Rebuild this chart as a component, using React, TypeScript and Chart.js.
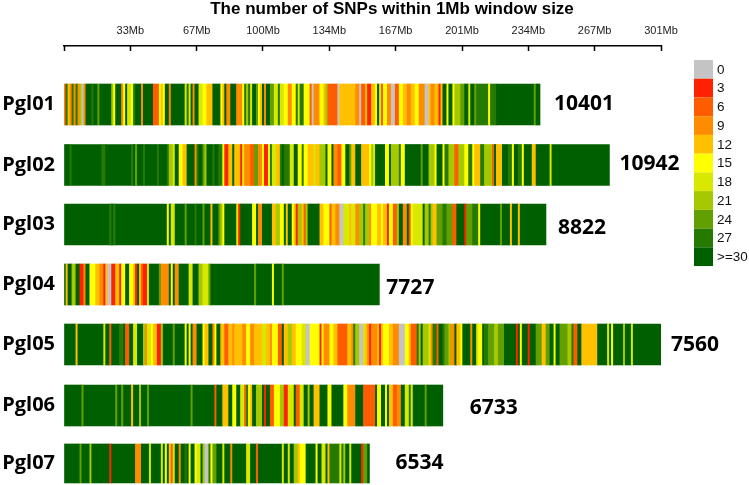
import React, { useEffect, useRef } from "react";
import { Chart, registerables } from "chart.js";

Chart.register(...registerables);

const chromosomes = ["Pgl01", "Pgl02", "Pgl03", "Pgl04", "Pgl05", "Pgl06", "Pgl07"];
const chromosomeLengthsMb = [240, 275, 243, 159, 301, 191, 154];
const snpTotals = ["10401", "10942", "8822", "7727", "7560", "6733", "6534"];
const legendLevels = [0, 3, 6, 9, 12, 15, 18, 21, 24, 27, 30];
const legendLabels = ["0", "3", "6", "9", "12", "15", "18", "21", "24", "27", ">=30"];
const tickValuesMb = [0, 33.44, 66.89, 100.33, 133.78, 167.22, 200.67, 234.11, 267.56, 301];
const tickLabels = ["", "33Mb", "67Mb", "100Mb", "134Mb", "167Mb", "201Mb", "234Mb", "267Mb", "301Mb"];

// Each run is [start in Mb, SNP level]; a run lasts until the next start.
const pgl01: number[][] = [[0,6],[1,27],[2,12],[3,9],[4,27],[5,9],[6,27],[7,9],[8,21],[9,0],[10,9],[11,30],[14,27],[15,30],[17,24],[18,30],[24,21],[25,15],[26,30],[29,9],[30,15],[31,30],[32,18],[34,15],[35,27],[36,30],[39,9],[40,30],[45,6],[48,15],[49,12],[50,15],[51,30],[53,9],[54,30],[61,18],[62,27],[63,18],[64,30],[65,9],[66,30],[68,18],[70,15],[72,12],[75,30],[79,15],[80,12],[81,30],[82,9],[84,30],[87,9],[90,15],[91,27],[92,21],[93,27],[94,18],[95,30],[97,24],[98,15],[99,12],[100,30],[101,9],[102,30],[104,24],[106,18],[108,27],[109,18],[111,15],[113,9],[115,15],[117,27],[118,18],[119,27],[121,15],[124,6],[125,0],[126,9],[129,15],[131,12],[132,21],[133,6],[138,0],[139,12],[147,9],[149,0],[150,6],[152,12],[153,3],[155,12],[157,15],[158,30],[159,18],[160,6],[161,15],[163,9],[165,0],[167,6],[169,15],[171,12],[173,9],[175,12],[177,15],[179,9],[182,0],[184,12],[185,9],[187,12],[189,3],[190,12],[191,30],[193,15],[194,30],[196,15],[197,21],[200,24],[202,30],[204,18],[205,30],[207,24],[208,27],[214,15],[215,27],[218,30],[237,24],[238,30]];
const pgl02: number[][] = [[0,30],[3,27],[4,30],[19,27],[21,30],[34,27],[35,30],[36,24],[37,30],[40,27],[41,30],[47,27],[48,30],[52,27],[53,21],[55,18],[56,30],[58,15],[60,12],[62,30],[66,9],[67,27],[68,30],[70,24],[71,21],[72,30],[75,27],[76,30],[78,27],[80,15],[81,3],[83,12],[85,30],[86,12],[89,3],[90,18],[91,9],[94,6],[96,24],[98,9],[100,15],[101,3],[103,15],[104,27],[105,18],[107,12],[109,27],[110,30],[111,27],[114,18],[116,30],[118,15],[120,27],[121,15],[123,12],[126,18],[127,12],[129,21],[132,30],[133,15],[135,30],[136,9],[138,6],[140,15],[142,30],[144,24],[145,12],[147,30],[150,12],[154,15],[155,21],[156,18],[157,30],[162,15],[164,30],[165,21],[169,27],[170,15],[172,30],[180,24],[181,30],[184,21],[187,15],[188,30],[191,15],[192,27],[194,21],[197,6],[199,21],[202,15],[204,27],[206,15],[207,12],[210,27],[212,21],[216,6],[217,30],[218,12],[221,30],[224,27],[226,15],[227,30],[229,27],[231,15],[232,30],[236,12],[238,30],[245,18],[246,30]];
const pgl03: number[][] = [[0,30],[23,27],[24,30],[25,27],[26,30],[52,15],[53,30],[54,18],[56,30],[61,24],[62,30],[66,27],[67,30],[70,24],[71,30],[74,12],[75,30],[78,24],[79,21],[80,15],[81,30],[87,18],[88,3],[89,30],[95,15],[97,30],[98,9],[100,30],[105,12],[107,21],[109,15],[111,30],[112,12],[113,30],[115,15],[116,12],[117,3],[118,21],[120,12],[121,6],[122,21],[123,30],[129,12],[131,15],[134,6],[135,12],[137,9],[139,0],[141,18],[144,12],[145,18],[147,9],[149,21],[151,27],[152,21],[154,9],[155,15],[158,12],[160,15],[161,12],[163,3],[164,15],[166,6],[168,21],[169,30],[171,9],[173,30],[174,6],[175,15],[176,18],[181,30],[182,21],[184,27],[185,21],[186,12],[188,24],[191,27],[193,24],[196,6],[198,30],[202,3],[203,24],[206,27],[209,15],[210,30],[220,24],[221,30],[225,12],[226,30],[229,12],[230,30]];
const pgl04: number[][] = [[0,30],[1,12],[2,30],[4,21],[6,30],[8,3],[10,9],[11,30],[13,15],[16,12],[18,9],[20,3],[21,12],[22,0],[24,3],[26,12],[28,3],[29,15],[31,30],[33,15],[35,12],[36,3],[37,30],[38,12],[39,6],[40,3],[42,18],[43,30],[48,24],[49,9],[53,30],[54,15],[55,30],[56,9],[58,30],[63,18],[65,30],[68,21],[70,18],[73,24],[74,30],[96,24],[97,30],[105,15],[106,30],[110,24],[111,30]];
const pgl05: number[][] = [[0,30],[6,12],[7,30],[20,18],[21,30],[23,6],[24,30],[28,27],[30,30],[31,6],[33,30],[35,18],[37,30],[40,21],[41,9],[42,18],[44,15],[45,12],[47,3],[49,21],[50,30],[55,24],[56,30],[61,15],[62,30],[63,15],[64,30],[65,9],[67,30],[70,15],[71,12],[73,30],[75,9],[76,15],[77,30],[79,12],[81,6],[83,12],[85,9],[86,12],[90,9],[92,15],[94,9],[96,12],[100,18],[102,12],[104,9],[105,15],[108,6],[110,30],[111,12],[113,21],[115,12],[117,15],[120,18],[122,0],[124,15],[129,3],[130,15],[131,9],[134,15],[136,12],[138,6],[143,12],[145,9],[146,27],[147,21],[149,0],[151,18],[152,12],[153,9],[154,3],[155,9],[158,12],[159,3],[160,12],[161,15],[164,12],[166,9],[169,0],[172,15],[174,12],[175,6],[178,27],[179,21],[180,30],[181,21],[184,18],[185,9],[186,27],[188,6],[189,30],[191,27],[192,24],[194,21],[195,9],[197,30],[198,12],[200,15],[201,30],[205,9],[206,30],[208,18],[209,15],[211,30],[212,27],[214,24],[217,21],[219,24],[222,30],[228,3],[229,30],[230,15],[231,30],[234,3],[235,30],[238,24],[241,12],[243,24],[245,30],[247,15],[248,30],[250,24],[254,21],[256,27],[257,6],[259,30],[261,12],[269,30],[274,18],[275,30],[276,15],[277,30],[282,21],[283,30],[286,18],[287,30]];
const pgl06: number[][] = [[0,30],[9,24],[10,30],[26,24],[27,30],[29,24],[30,30],[34,12],[35,30],[38,21],[39,30],[42,24],[43,30],[64,24],[65,30],[76,6],[77,30],[80,12],[83,30],[85,15],[87,30],[89,18],[91,6],[92,27],[93,15],[94,12],[95,30],[97,21],[100,30],[101,3],[102,30],[104,6],[106,15],[109,21],[111,3],[113,18],[116,30],[117,6],[119,18],[121,30],[123,21],[124,30],[126,12],[129,30],[133,15],[135,30],[141,15],[143,9],[147,30],[151,6],[157,30],[158,15],[160,30],[162,15],[163,30],[164,12],[166,6],[168,9],[170,30],[172,18],[174,27],[175,18],[176,30],[182,24],[183,30]];
const pgl07: number[][] = [[0,30],[8,24],[9,30],[13,21],[14,30],[23,3],[24,30],[36,9],[39,30],[43,18],[44,30],[49,18],[50,30],[51,15],[52,30],[53,12],[54,6],[55,18],[56,30],[58,9],[59,30],[61,27],[62,30],[63,15],[64,30],[66,15],[67,18],[69,30],[70,21],[71,0],[73,27],[74,15],[75,24],[77,30],[80,18],[81,30],[84,9],[85,30],[92,18],[94,30],[97,6],[98,30],[110,18],[111,30],[113,18],[114,30],[116,21],[118,12],[119,15],[122,30],[127,15],[128,30],[130,18],[132,30],[133,12],[134,27],[139,18],[140,27],[141,21],[142,30],[144,18],[145,30],[150,3],[151,24],[153,30]];
const chromosomeRuns = [pgl01, pgl02, pgl03, pgl04, pgl05, pgl06, pgl07];

const rowPositions = [0, 1.008, 2, 3, 4, 5.017, 5.983];
const palette: Record<number, string> = {
  0: "#c4c4c4", 3: "#ff2200", 6: "#ff5c00", 9: "#ff8c00", 12: "#ffc000", 15: "#ffff00",
  18: "#d9e800", 21: "#a6c800", 24: "#629f00", 27: "#267a00", 30: "#006000",
};
const totalPixelOffsets = [14, 10, 12, 7, 10, 27, 26];
const totalCenterOffsets = [0, -0.5, 3.5, 3.5, 0.5, 2.5, -0.5];

const annotations = {
  id: "annotations",
  afterDraw(chart: any) {
    const { ctx, scales } = chart;
    ctx.save();
    ctx.fillStyle = "#000";
    ctx.textBaseline = "middle";
    ctx.textAlign = "center";
    ctx.font = 'bold 17px "Liberation Sans"';
    ctx.fillText("The number of SNPs within 1Mb window size", 392, 9);

    ctx.textAlign = "left";
    ctx.font = 'bold 21px "Open Sans"';
    snpTotals.forEach((text, i) => {
      const x = scales.x.getPixelForValue(chromosomeLengthsMb[i]) + totalPixelOffsets[i];
      const y = scales.y.getPixelForValue(rowPositions[i]) + totalCenterOffsets[i];
      ctx.fillText(text, x, y);
    });

    legendLevels.forEach((level, i) => {
      const top = 60 + i * 18.73;
      ctx.fillStyle = palette[level];
      ctx.fillRect(694, top, 19, 18.73);
      ctx.fillStyle = "#111";
      ctx.font = '13.5px "Liberation Sans"';
      ctx.fillText(legendLabels[i], 717, top + 10);
    });
    ctx.restore();
  },
};

export default function App() {
  const ref = useRef<HTMLCanvasElement>(null);
  useEffect(() => {
    const chart = new Chart(ref.current as HTMLCanvasElement, {
      type: "bar",
      plugins: [annotations],
      data: {
        datasets: chromosomeRuns.map((runs, c) => ({
          label: chromosomes[c],
          grouped: false,
          barThickness: c === 6 ? 39 : 41,
          borderWidth: 0,
          data: runs.map((run, i) => ({
            x: [run[0], i + 1 < runs.length ? runs[i + 1][0] : chromosomeLengthsMb[c]],
            y: rowPositions[c],
          })),
          backgroundColor: runs.map((run) => palette[run[1]]),
        })),
      } as any,
      options: {
        indexAxis: "y",
        animation: false,
        responsive: false,
        devicePixelRatio: 1,
        layout: { padding: { right: 88 } },
        plugins: { legend: { display: false }, tooltip: { enabled: false }, title: { display: false } },
        scales: {
          x: {
            type: "linear",
            position: "top",
            min: 0,
            max: 301,
            border: { display: true, color: "#000", width: 1.5 },
            grid: { drawOnChartArea: false, drawTicks: true, tickLength: -5, tickColor: "#000", tickWidth: 1.5 },
            afterBuildTicks: (s: any) => { s.ticks = tickValuesMb.map((value) => ({ value })); },
            afterFit: (s: any) => { s.height = 46; s.paddingLeft = 0; s.paddingRight = 0; },
            ticks: {
              autoSkip: false,
              maxRotation: 0,
              padding: 13,
              color: "#222",
              font: { family: '"Liberation Sans"', size: 11 },
              callback: (_v: any, i: number) => tickLabels[i],
            },
          },
          y: {
            type: "linear",
            reverse: true,
            offset: false,
            min: -0.975,
            max: 6.342,
            border: { display: false },
            grid: { display: false, drawTicks: false, offset: false },
            afterBuildTicks: (s: any) => { s.ticks = rowPositions.map((value) => ({ value })); },
            afterFit: (s: any) => { s.width = 64; s.paddingTop = 0; s.paddingBottom = 0; },
            ticks: {
              autoSkip: false,
              padding: 9,
              color: "#000",
              font: { family: '"Open Sans"', size: 20, weight: "bold" },
              callback: (_v: any, i: number) => chromosomes[i],
            },
          },
        },
      } as any,
    });
    return () => chart.destroy();
  }, []);
  return (
    <canvas
      ref={ref}
      width={749}
      height={485}
      style={{ position: "absolute", left: 0, top: 0, width: 749, height: 485 }}
    />
  );
}
